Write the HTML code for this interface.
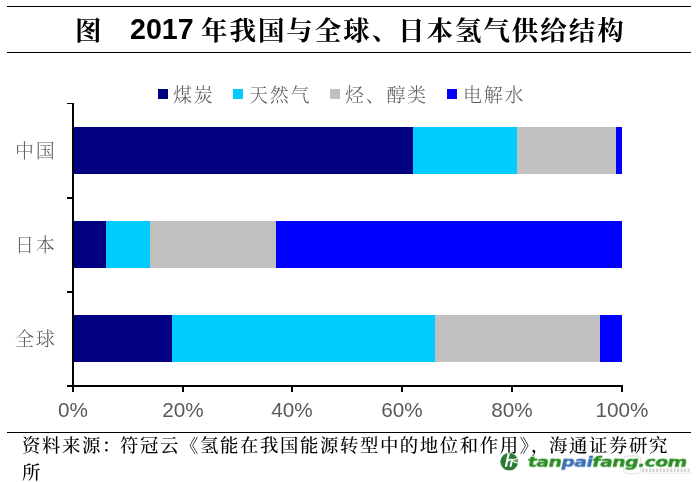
<!DOCTYPE html>
<html lang="zh-CN">
<head>
<meta charset="utf-8">
<title>图 2017 年我国与全球、日本氢气供给结构</title>
<style>
html,body{margin:0;padding:0;background:#fff;}
body{width:697px;height:482px;position:relative;overflow:hidden;font-family:"Liberation Sans","Noto Sans CJK SC",sans-serif;}
.abs{position:absolute;white-space:nowrap;will-change:transform;}
.hl{position:absolute;background:#000;height:1px;left:7px;width:684px;}
.kai{font-family:"Liberation Serif","Noto Serif CJK SC",serif;}
.title{top:9px;height:40px;line-height:40px;color:#000;font-weight:bold;}
.title.cjk{font-size:26.5px;letter-spacing:1.95px;top:10.5px;font-weight:700;}
.title.num{font-family:"Liberation Sans",sans-serif;font-size:28.6px;top:9px;}
.lg{position:absolute;top:89px;width:10.3px;height:10px;}
.lt{top:81.6px;height:28px;line-height:28px;font-size:19px;letter-spacing:1.7px;color:#5c5c5c;font-weight:300;margin-left:1px;}
.cat{left:15px;width:44px;height:28px;line-height:28px;font-size:19px;letter-spacing:1.7px;color:#5c5c5c;font-weight:300;}
.bar{position:absolute;height:47px;}
.ax{position:absolute;background:#000;}
.xl{top:396.8px;height:26px;line-height:26px;font-size:20.7px;color:#595959;width:80px;text-align:center;font-family:"Liberation Sans",sans-serif;}
.src{top:432.5px;height:26px;font-size:18.4px;letter-spacing:1.6px;line-height:26px;font-style:normal;color:#000;font-weight:500;font-kerning:none;font-feature-settings:"kern" 0,"palt" 0,"halt" 0,"chws" 0;text-spacing-trim:space-all;}
.wm{font-family:"DejaVu Sans","Liberation Sans",sans-serif;font-weight:bold;font-style:normal;font-size:14.4px;line-height:22px;height:22px;transform-origin:0 16px;transform:skewX(-12deg) scaleX(1.306);letter-spacing:-0.4px;-webkit-text-stroke:0.4px currentColor;}
</style>
</head>
<body>
<div class="hl" style="top:6px"></div>
<div class="hl" style="top:52px"></div>
<div class="abs kai title cjk" style="left:75px">图</div>
<div class="abs title num" style="left:129.6px">2017</div>
<div class="abs kai title cjk" style="left:201px">年我国与全球、</div>
<div class="abs kai title cjk" style="left:398.2px">日本氢气供给结构</div>

<div class="lg" style="left:158px;background:#000080"></div>
<div class="abs kai lt" style="left:172px">煤炭</div>
<div class="lg" style="left:233px;background:#00ccff"></div>
<div class="abs kai lt" style="left:248px">天然气</div>
<div class="lg" style="left:329.5px;background:#c0c0c0"></div>
<div class="abs kai lt" style="left:344px">烃、醇类</div>
<div class="lg" style="left:447px;background:#0000ff"></div>
<div class="abs kai lt" style="left:462px">电解水</div>

<div class="abs kai cat" style="top:137.5px">中国</div>
<div class="abs kai cat" style="top:231.5px">日本</div>
<div class="abs kai cat" style="top:325.5px">全球</div>

<!-- bars -->
<div class="bar" style="top:127px;left:73px;width:340.1px;background:#000080"></div>
<div class="bar" style="top:127px;left:413.1px;width:104.3px;background:#00ccff"></div>
<div class="bar" style="top:127px;left:517.4px;width:98.7px;background:#c0c0c0"></div>
<div class="bar" style="top:127px;left:616.1px;width:5.9px;background:#0000ff"></div>

<div class="bar" style="top:221px;left:73px;width:32.9px;background:#000080"></div>
<div class="bar" style="top:221px;left:105.9px;width:43.9px;background:#00ccff"></div>
<div class="bar" style="top:221px;left:149.8px;width:126.2px;background:#c0c0c0"></div>
<div class="bar" style="top:221px;left:276px;width:346px;background:#0000ff"></div>

<div class="bar" style="top:315px;left:73px;width:98.7px;background:#000080"></div>
<div class="bar" style="top:315px;left:171.7px;width:263.3px;background:#00ccff"></div>
<div class="bar" style="top:315px;left:435px;width:164.6px;background:#c0c0c0"></div>
<div class="bar" style="top:315px;left:599.6px;width:22.4px;background:#0000ff"></div>

<!-- axes -->
<div class="ax" style="left:72px;top:103px;width:2px;height:289px"></div>
<div class="ax" style="left:67px;top:385px;width:556px;height:2px"></div>
<div class="ax" style="left:67px;top:102.5px;width:6px;height:1.5px"></div>
<div class="ax" style="left:67px;top:196.5px;width:6px;height:2px"></div>
<div class="ax" style="left:67px;top:290.5px;width:6px;height:2px"></div>
<div class="ax" style="left:181.7px;top:387px;width:2px;height:5px"></div>
<div class="ax" style="left:291.4px;top:387px;width:2px;height:5px"></div>
<div class="ax" style="left:401.2px;top:387px;width:2px;height:5px"></div>
<div class="ax" style="left:510.9px;top:387px;width:2px;height:5px"></div>
<div class="ax" style="left:620.8px;top:387px;width:2px;height:5px"></div>

<div class="abs xl" style="left:33px">0%</div>
<div class="abs xl" style="left:142.7px">20%</div>
<div class="abs xl" style="left:252.4px">40%</div>
<div class="abs xl" style="left:362.2px">60%</div>
<div class="abs xl" style="left:471.9px">80%</div>
<div class="abs xl" style="left:582px">100%</div>

<div class="hl" style="top:432px"></div>
<div class="abs kai src" style="left:22px">资料来源：</div>
<div class="abs kai src" style="left:119.5px">符冠云《氢能在我国能源转型中的地位和作用》</div>
<div class="abs kai src" style="left:531px">，</div>
<div class="abs kai src" style="left:548.5px">海通证券研究</div>
<div class="abs kai src" style="left:22.4px;top:459.5px">所</div>

<!-- watermark -->
<svg class="abs" style="left:496px;top:448px" width="201" height="34" viewBox="0 0 201 34">
  <g fill="none">
    <rect x="127.5" y="8" width="17.5" height="17.5" rx="4" stroke="#e6e6e6" stroke-width="1.5"/>
    <path d="M146 22.3 H194" stroke="#d4d4d4" stroke-width="3.6" stroke-dasharray="2.2 1.3"/>
    <path d="M146 25.2 H196" stroke="#f0f0f0" stroke-width="1.4"/>
  </g>
  <defs><clipPath id="lc"><circle cx="13.25" cy="13.7" r="8.9"/></clipPath></defs>
  <circle cx="13.25" cy="13.7" r="8.9" fill="#2c7c36"/>
  <g clip-path="url(#lc)">
    <path d="M15.6 11.9 L23 10.2 L23 15.6 L16.2 13.3 Z" fill="#6fa35c"/>
    <path d="M15.4 12 L23 10.2 M16 13.2 L23 15.6" stroke="#fff" stroke-width="1.1" fill="none"/>
  </g>
  <path d="M11.7 4.8 L13.9 4.8 L11.0 18.8 L8.8 18.8 Z" fill="#fff"/>
  <path d="M14.9 12.6 L16.9 12.6 L15.5 18.8 L13.5 18.8 Z" fill="#fff"/>
  <path d="M11.8 13.6 C12.6 11.2 16.6 10.6 16.6 13.2" stroke="#fff" stroke-width="1.5" fill="none"/>
</svg>
<div class="abs wm" style="left:527.4px;top:451.3px"><span style="color:#2a8c22">tan</span><span style="color:#3a70b4">pai</span><span style="color:#2a8c22">fang.com</span></div>
</body>
</html>
